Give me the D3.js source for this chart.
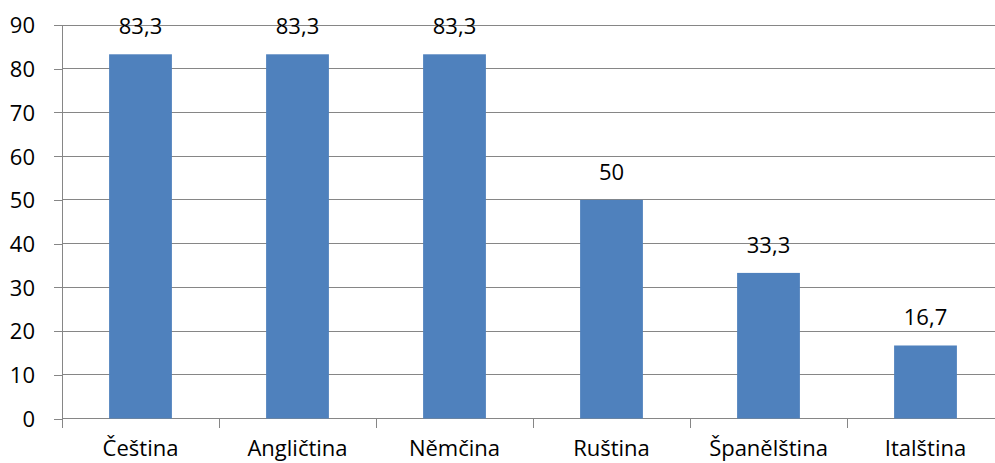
<!DOCTYPE html>
<html>
<head>
<meta charset="utf-8">
<script src="https://cdn.jsdelivr.net/npm/d3@7"></script>
<style>
  html, body { margin: 0; padding: 0; background: #fff; overflow: hidden; }
  svg { display: block; }
  text { font-family: "Open Sans", Lato, sans-serif; fill: #000; }
</style>
</head>
<body>
<svg id="chart" width="995" height="463"></svg>
<script>
// Languages and share values (%)
const categories = ["Čeština", "Angličtina", "Němčina", "Ruština", "Španělština", "Italština"];
const values = [83.3, 83.3, 83.3, 50, 33.3, 16.7];
const yTicks = [0, 10, 20, 30, 40, 50, 60, 70, 80, 90];

const svg = d3.select("#chart");
const plotLeft = 62, plotRight = 1004, plotTop = 25, plotBottom = 418.5;
const fontSize = 22;
const fontFamily = "'Open Sans', Lato, sans-serif";

const x = d3.scaleBand().domain(categories).range([plotLeft, plotRight]).paddingInner(0.6).paddingOuter(0.3);
const y = d3.scaleLinear().domain([0, 90]).range([plotBottom, plotTop]);

const gridColor = "#868686";

// horizontal gridlines
svg.append("g").selectAll("line").data(yTicks.filter(d => d > 0)).join("line")
  .attr("x1", plotLeft).attr("x2", plotRight)
  .attr("y1", d => y(d)).attr("y2", d => y(d))
  .attr("stroke", gridColor).attr("stroke-width", 1)
  .attr("shape-rendering", "crispEdges");

// y axis
const yAxis = d3.axisLeft(y).tickValues(yTicks).tickSize(8).tickPadding(19).tickFormat(d3.format("d"));
const gy = svg.append("g").attr("transform", `translate(${plotLeft},0)`).call(yAxis);
gy.select(".domain").attr("stroke", gridColor).attr("d", `M0,${plotTop}V${plotBottom}`);
gy.selectAll(".tick line").attr("stroke", gridColor);
gy.selectAll(".tick text").attr("font-size", fontSize).attr("font-family", fontFamily).attr("dy", "0.36em");
gy.attr("shape-rendering", "crispEdges");

// x axis with separator ticks between categories
const xAxisG = svg.append("g").attr("transform", `translate(0,${plotBottom})`);
xAxisG.append("line").attr("x1", plotLeft).attr("x2", plotRight).attr("y1", 0).attr("y2", 0)
  .attr("stroke", gridColor).attr("shape-rendering", "crispEdges");
const separators = categories.map(c => x(c) - x.step() * 0.3).concat([plotRight]);
xAxisG.selectAll("line.sep").data(separators).join("line").attr("class", "sep")
  .attr("x1", d => d).attr("x2", d => d).attr("y1", 0).attr("y2", 9)
  .attr("stroke", gridColor).attr("shape-rendering", "crispEdges");
xAxisG.selectAll("text").data(categories).join("text")
  .attr("x", d => x(d) + x.bandwidth() / 2).attr("y", 37.5)
  .attr("text-anchor", "middle").attr("font-size", fontSize)
  .text(d => d);

// bars
const data = categories.map((c, i) => ({ c, v: values[i] }));
svg.append("g").selectAll("rect").data(data).join("rect")
  .attr("x", d => x(d.c)).attr("width", x.bandwidth())
  .attr("y", d => y(d.v)).attr("height", d => y(0) - y(d.v))
  .attr("fill", "#4F81BD");

// value labels
svg.append("g").selectAll("text").data(data).join("text")
  .attr("x", d => x(d.c) + x.bandwidth() / 2)
  .attr("y", d => y(d.v) - 20)
  .attr("text-anchor", "middle").attr("font-size", fontSize)
  .text(d => String(d.v).replace(".", ","));
</script>
</body>
</html>
